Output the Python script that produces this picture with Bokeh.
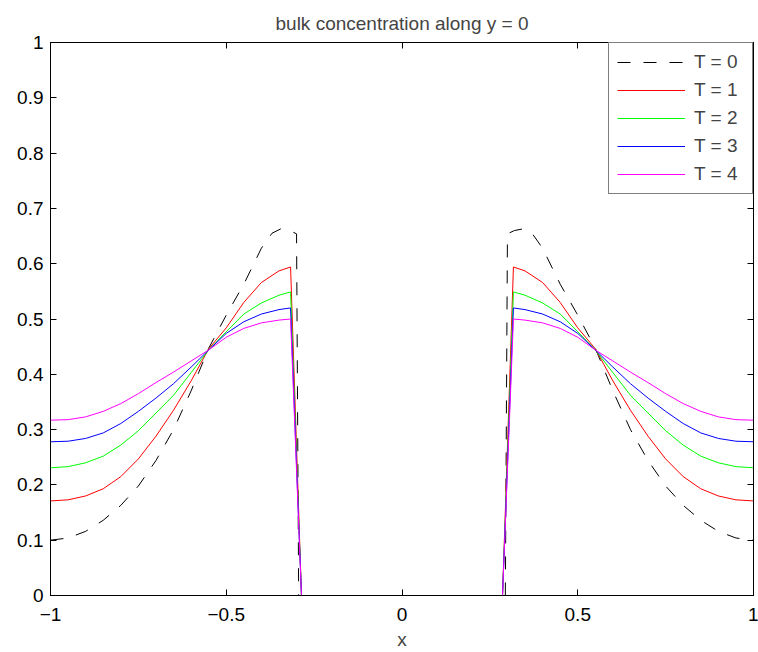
from bokeh.plotting import figure
from bokeh.models import Range1d, FixedTicker, LinearAxis, CustomJSTickFormatter
from bokeh.embed import file_html
from bokeh.resources import INLINE

# ---- data (profile along y = 0) ----
x_t = [-1.0, -0.95, -0.9, -0.85, -0.8, -0.75, -0.7, -0.65, -0.6, -0.55, -0.5, -0.45, -0.4, -0.35, -0.317, -0.286,
       0.286, 0.317, 0.35, 0.4, 0.45, 0.5, 0.55, 0.6, 0.65, 0.7, 0.75, 0.8, 0.85, 0.9, 0.95, 1.0]
T1 = [0.171, 0.173, 0.180, 0.193, 0.215, 0.247, 0.288, 0.335, 0.388, 0.446, 0.484, 0.530, 0.566, 0.587, 0.594, 0.0,
      0.0, 0.594, 0.587, 0.566, 0.530, 0.484, 0.446, 0.388, 0.335, 0.288, 0.247, 0.215, 0.193, 0.180, 0.173, 0.171]
T2 = [0.231, 0.233, 0.240, 0.252, 0.272, 0.298, 0.330, 0.362, 0.403, 0.444, 0.477, 0.509, 0.529, 0.543, 0.549, 0.0,
      0.0, 0.549, 0.543, 0.529, 0.509, 0.477, 0.444, 0.403, 0.362, 0.330, 0.298, 0.272, 0.252, 0.240, 0.233, 0.231]
T3 = [0.278, 0.279, 0.284, 0.294, 0.311, 0.333, 0.357, 0.383, 0.413, 0.444, 0.474, 0.495, 0.509, 0.517, 0.520, 0.0,
      0.0, 0.520, 0.517, 0.509, 0.495, 0.474, 0.444, 0.413, 0.383, 0.357, 0.333, 0.311, 0.294, 0.284, 0.279, 0.278]
T4 = [0.317, 0.318, 0.323, 0.333, 0.347, 0.365, 0.385, 0.404, 0.424, 0.444, 0.467, 0.483, 0.493, 0.498, 0.500, 0.0,
      0.0, 0.500, 0.498, 0.493, 0.483, 0.467, 0.444, 0.424, 0.404, 0.385, 0.365, 0.347, 0.333, 0.323, 0.318, 0.317]

x_t0 = [-1.0, -0.95, -0.9, -0.85, -0.8, -0.75, -0.7, -0.65, -0.6, -0.55, -0.5, -0.45, -0.4, -0.37, -0.345, -0.32, -0.30, -0.294,
        0.294, 0.30, 0.32, 0.345, 0.37, 0.4, 0.45, 0.5, 0.55, 0.6, 0.65, 0.7, 0.75, 0.8, 0.85, 0.9, 0.95, 1.0]
T0 = [0.100, 0.104, 0.116, 0.136, 0.163, 0.198, 0.244, 0.300, 0.370, 0.447, 0.507, 0.563, 0.628, 0.655, 0.663, 0.660, 0.654, 0.0,
      0.0, 0.654, 0.660, 0.663, 0.655, 0.628, 0.563, 0.507, 0.447, 0.370, 0.300, 0.244, 0.198, 0.163, 0.136, 0.116, 0.104, 0.100]

labels = ["T = 0", "T = 1", "T = 2", "T = 3", "T = 4"]
colors = ["black", "#ff0000", "#00ff00", "#0000ff", "#ff00ff"]
x_ticks = [-1, -0.5, 0, 0.5, 1]
y_ticks = [0, 0.1, 0.2, 0.3, 0.4, 0.5, 0.6, 0.7, 0.8, 0.9, 1]
title_text = "bulk concentration along y = 0"
x_label = "x"

FONT = "Liberation Sans"
FS = "19px"

p = figure(width=758, height=652, output_backend="svg", toolbar_location=None,
           x_range=Range1d(-1, 1), y_range=Range1d(0, 1),
           min_border_left=50, min_border_right=5, min_border_top=42, min_border_bottom=57,
           title=title_text)
p.title.text_font = FONT
p.title.text_font_size = FS
p.title.text_font_style = "normal"
p.title.align = "center"
p.title.standoff = 17

p.xgrid.visible = False
p.ygrid.visible = False
p.outline_line_color = "black"
p.outline_line_width = 1
p.background_fill_color = "white"
p.border_fill_color = "white"

# data lines
p.line(x_t0, T0, line_color=colors[0], line_width=1, line_dash="13 13", legend_label=labels[0])
for ys, c, lab in zip([T1, T2, T3, T4], colors[1:], labels[1:]):
    p.line(x_t, ys, line_color=c, line_width=1, legend_label=lab)

minus_fmt = CustomJSTickFormatter(code="return (Math.round(tick*10)/10).toString().replace('-', '\\u2212');")
plain_fmt = CustomJSTickFormatter(code="return (Math.round(tick*10)/10).toString();")
empty_fmt = CustomJSTickFormatter(code="return '';")

def style_axis(ax, show_labels=True):
    ax.major_tick_in = 6
    ax.major_tick_out = 0
    ax.minor_tick_in = 0
    ax.minor_tick_out = 0
    ax.axis_line_color = "black"
    ax.major_tick_line_color = "black"
    ax.major_label_text_font = FONT
    ax.major_label_text_color = "black"
    if show_labels:
        ax.major_label_text_font_size = FS
    else:
        ax.major_label_text_font_size = "1px"
        ax.major_label_standoff = 0

xa = p.xaxis[0]
xa.ticker = FixedTicker(ticks=x_ticks)
xa.formatter = minus_fmt
style_axis(xa)
xa.major_label_standoff = 12
xa.axis_label = x_label
xa.axis_label_text_font = FONT
xa.axis_label_text_font_size = FS
xa.axis_label_text_font_style = "normal"
xa.axis_label_standoff = 5

ya = p.yaxis[0]
ya.ticker = FixedTicker(ticks=y_ticks)
ya.formatter = plain_fmt
style_axis(ya)
ya.major_label_standoff = 7

top = LinearAxis(ticker=FixedTicker(ticks=x_ticks), formatter=empty_fmt)
style_axis(top, show_labels=False)
p.add_layout(top, "above")
right = LinearAxis(ticker=FixedTicker(ticks=y_ticks), formatter=empty_fmt)
style_axis(right, show_labels=False)
p.add_layout(right, "right")

lg = p.legend[0]
lg.location = "top_right"
lg.margin = 0
lg.padding = 8
lg.spacing = 6
lg.glyph_height = 22
lg.label_height = 22
lg.glyph_width = 68
lg.label_width = 50
lg.label_standoff = 9
lg.label_text_font = FONT
lg.label_text_font_size = FS
lg.border_line_color = "black"
lg.border_line_width = 1
lg.background_fill_color = "white"
lg.background_fill_alpha = 1.0

open("out.html", "w").write(file_html(p, INLINE))
